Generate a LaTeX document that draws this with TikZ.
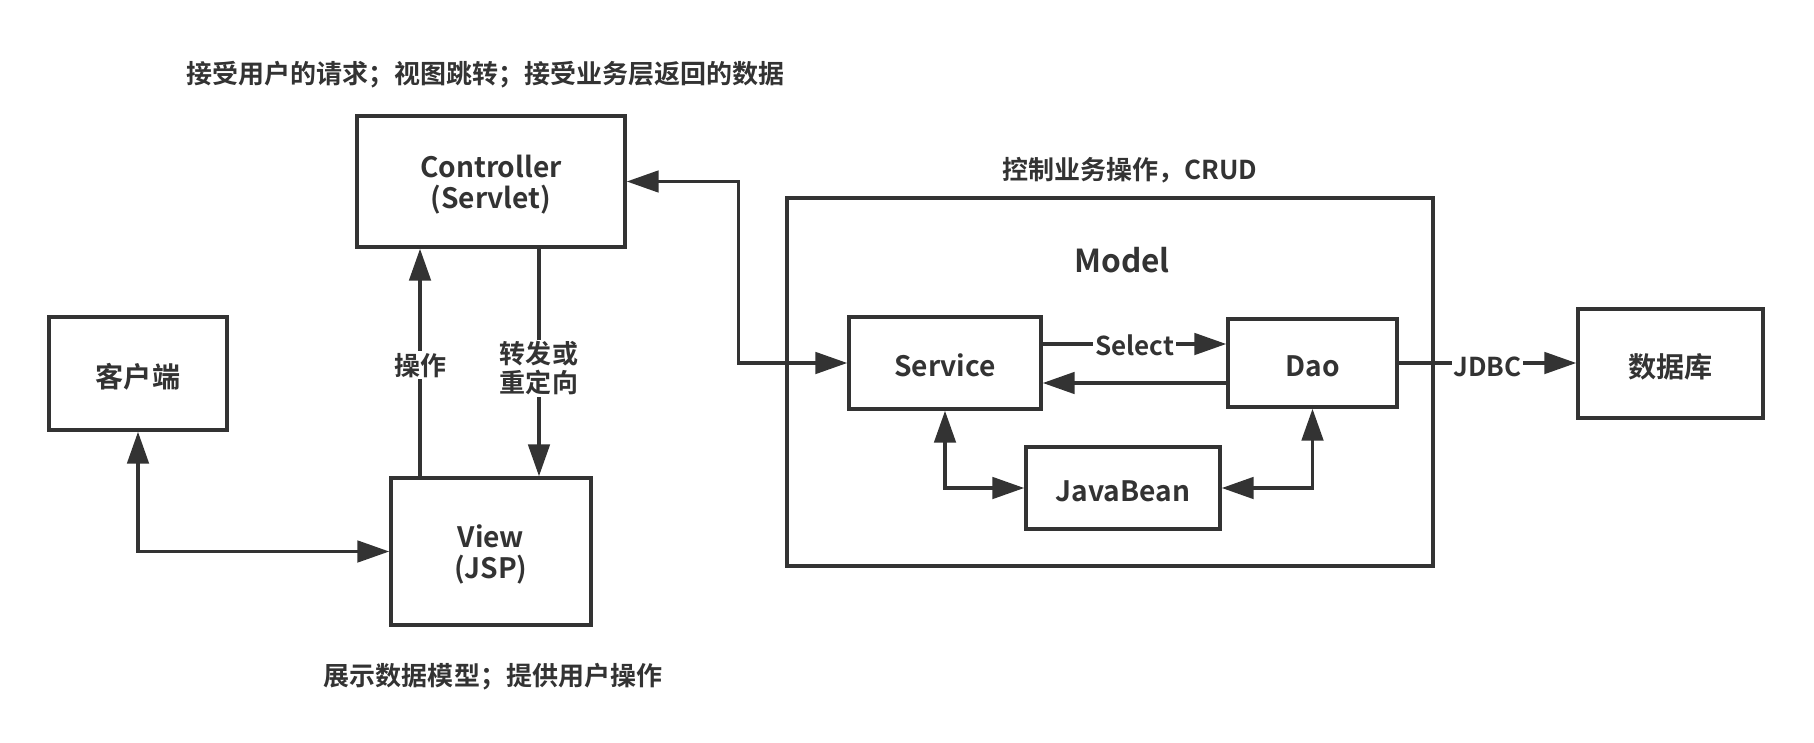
\documentclass[tikz,border=0pt]{standalone}
\usepackage{fontspec}
\setmainfont{Noto Sans CJK SC}[BoldFont={* Bold}]
\usetikzlibrary{arrows.meta}
\definecolor{ink}{HTML}{333333}
\tikzset{
    box/.style={draw=ink, line width=0.07cm, text=ink, align=center, inner sep=0pt, font=\bfseries\fontsize{16}{17.6}\selectfont},
    onebox/.style={box, text height=15.5pt, text depth=0pt},
    wire/.style={draw=ink, line width=0.07cm, -{Triangle[length=0.64cm, width=0.43cm]}},
    both/.style={wire, {Triangle[length=0.64cm, width=0.43cm]}-{Triangle[length=0.64cm, width=0.43cm]}},
    tag/.style={fill=white, text=ink, inner sep=1pt, align=center}
}
\newcommand\firstline{\rule{0pt}{16.8pt}}
\begin{document}
\begin{tikzpicture}[x=0.02cm, y=-0.02cm, font=\bfseries\fontsize{14.8}{16.4}\selectfont]
            \useasboundingbox (0,0) rectangle (1814,743);

            \node[box, minimum width=5.36cm, minimum height=2.62cm] (ctrl) at (491,181.5) {\firstline Controller\\(Servlet)};
            \node[onebox, minimum width=3.56cm, minimum height=2.26cm] (client) at (138,373.5) {客户端};
            \node[box, minimum width=4cm, minimum height=2.94cm] (view) at (491,551.5) {\firstline View\\(JSP)};
            \node[box, minimum width=12.92cm, minimum height=7.36cm] (model) at (1110,382) {};
            \node[onebox, minimum width=3.84cm, minimum height=1.84cm] (service) at (945,363) {Service};
            \node[onebox, minimum width=3.38cm, minimum height=1.76cm] (dao) at (1312.5,363) {Dao};
            \node[onebox, minimum width=3.88cm, minimum height=1.64cm] (bean) at (1123,488) {JavaBean};
            \node[onebox, minimum width=3.7cm, minimum height=2.18cm] (db) at (1670.5,363.5) {数据库};

            \node[text=ink] (ctrlnote) at (485.5,75) {接受用户的请求；视图跳转；接受业务层返回的数据};
            \node[text=ink] (modelnote) at (1130,170) {控制业务操作，CRUD};
            \node[text=ink, font=\bfseries\fontsize{18}{20}\selectfont] (modeltitle) at (1122,260) {Model};
            \node[text=ink] (viewnote) at (493,677) {展示数据模型；提供用户操作};

            \draw[both] (client.south) |- (view.west);
            \draw[wire] ([xshift=-1.42cm]view.north) -- node[tag, pos=0.487] (op) {操作} ([xshift=-1.42cm]ctrl.south);
            \draw[wire] ([xshift=0.96cm]ctrl.south) -- node[tag, pos=0.526] (fwd) {转发或\\重定向} ([xshift=0.96cm]view.north);
            \draw[both] (ctrl.east) -- ++(112,0) |- (service.west);
            \draw[wire] ([yshift=0.38cm]service.east) -- node[tag, yshift=-1pt] (sel) {Select} ([yshift=0.38cm]dao.west);
            \draw[wire] ([yshift=-0.4cm]dao.west) -- ([yshift=-0.4cm]service.east);
            \draw[both] (service.south) |- (bean.west);
            \draw[both] (dao.south) |- (bean.east);
            \draw[wire] (dao.east) -- node[tag, yshift=-2pt] (jdbc) {JDBC} (dao.east -| db.west);
        \end{tikzpicture}
\end{document}
